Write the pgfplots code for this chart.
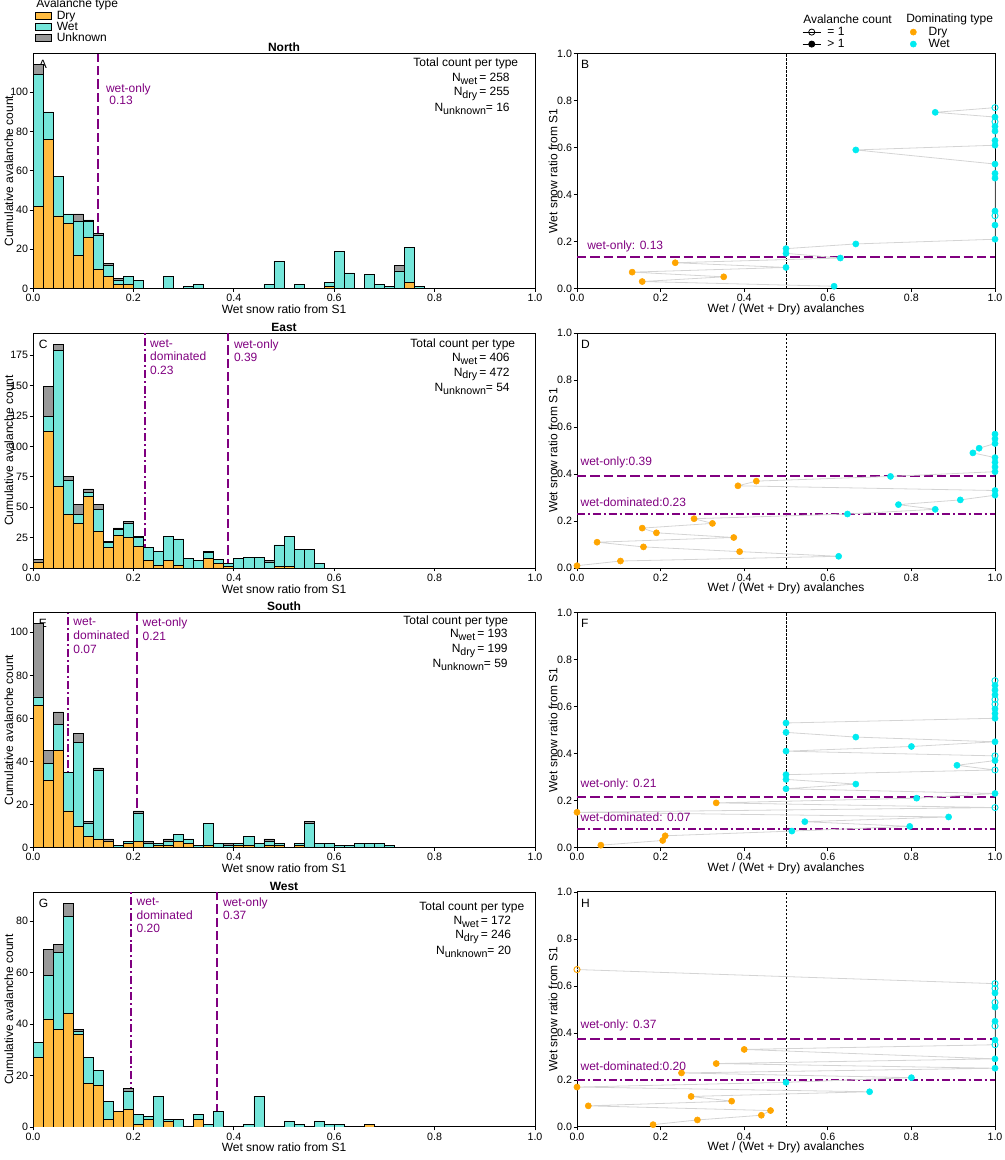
\documentclass[border=0pt]{standalone}
\usepackage{fontspec}
\setmainfont{Liberation Sans}
\usepackage{pgfplots}
\pgfplotsset{compat=1.18}
\usepackage{pgfplotstable}

\definecolor{dryh}{RGB}{255,187,64}
\definecolor{weth}{RGB}{116,230,218}
\definecolor{unkh}{RGB}{153,153,153}
\definecolor{scdry}{RGB}{255,165,0}
\definecolor{scwet}{RGB}{0,235,240}
\definecolor{purp}{RGB}{128,0,128}
\definecolor{pathg}{RGB}{212,212,212}

\newcommand{\sub}[1]{\raisebox{-0.45ex}{\fontsize{8}{8}\selectfont #1}}

\pgfplotstableread{
x dry wet unk
0.01 42 67 5
0.03 76 14 0
0.05 37 20 0
0.07 33 5 0
0.09 17 17 4
0.11 26 8 1
0.13 10 17 1
0.15 6 6 1
0.17 2 2 1
0.19 2 4 0
0.21 0 4 0
0.27 0 6 0
0.31 0 1 0
0.33 0 2 0
0.47 0 2 0
0.49 0 14 0
0.53 0 2 0
0.59 1 2 0
0.61 0 19 0
0.63 0 8 0
0.67 0 7 0
0.69 0 2 0
0.71 0 1 0
0.73 0 9 3
0.75 3 18 0
0.77 0 1 0
}\tabN

\pgfplotstableread{
x dry wet unk
0.01 5 0 2
0.03 112 13 24
0.05 67 112 5
0.07 44 28 3
0.09 37 7 8
0.11 59 3 3
0.13 30 18 4
0.15 17 4 1
0.17 27 5 1
0.19 25 12 1
0.21 18 7 1
0.23 6 11 0
0.25 2 12 0
0.27 6 20 0
0.29 2 22 0
0.31 0 8 0
0.33 0 6 0
0.35 8 5 1
0.37 4 3 0
0.39 1 3 0
0.41 0 8 0
0.43 0 9 0
0.45 0 9 0
0.47 0 5 1
0.49 1 18 0
0.51 1 25 0
0.53 0 15 0
0.55 0 15 0
0.57 0 4 0
}\tabE

\pgfplotstableread{
x dry wet unk
0.01 66 4 34
0.03 31 8 6
0.05 45 12 6
0.07 17 18 0
0.09 10 39 4
0.11 5 6 1
0.13 4 32 1
0.15 3 0 1
0.17 0 1 0
0.19 2 1 0
0.21 3 13 1
0.23 0 2 1
0.25 1 1 0
0.27 1 2 1
0.29 3 3 0
0.31 2 2 0
0.33 0 1 0
0.35 1 10 0
0.37 0 2 0
0.39 0 1 1
0.41 1 1 0
0.43 1 4 0
0.45 0 2 0
0.47 1 2 1
0.49 1 1 0
0.53 1 1 0
0.55 0 11 1
0.57 0 2 0
0.59 0 2 0
0.61 0 1 0
0.63 0 1 0
0.65 0 2 0
0.67 0 2 0
0.69 0 2 0
0.71 0 1 0
}\tabS

\pgfplotstableread{
x dry wet unk
0.01 27 6 0
0.03 42 17 10
0.05 38 30 3
0.07 44 38 5
0.09 36 1 1
0.11 17 10 0
0.13 16 6 0
0.15 3 7 0
0.17 6 0 0
0.19 7 7 1
0.21 1 4 0
0.23 3 1 0
0.25 0 12 0
0.27 2 1 0
0.29 0 3 0
0.33 3 2 0
0.35 0 1 0
0.37 0 6 0
0.43 0 1 0
0.45 0 12 0
0.51 0 2 0
0.53 0 1 0
0.57 0 2 0
0.59 0 1 0
0.61 0 1 0
0.67 1 0 0
}\tabW

\tikzset{
  plab/.style={text=purp, inner sep=0pt, anchor=west},
  hlab/.style={text=purp, inner sep=0pt, anchor=north west, align=left, font=\fontsize{9}{10.2}\selectfont},
  letter/.style={anchor=north west, inner sep=0pt},
  nblock/.style={anchor=north east, inner sep=0pt, align=right, font=\fontsize{9}{10.8}\selectfont},
}

\pgfplotsset{
  base/.style={scale only axis, xmin=0, xmax=1,
    axis line style={line width=0.75pt},
    tick align=outside, xtick pos=bottom, ytick pos=left,
    major tick length=2.5pt, tick style={line width=0.6pt, black},
    /pgf/number format/assume math mode=true,
    tick label style={font=\fontsize{8}{9}\selectfont},
    label style={font=\fontsize{9}{10}\selectfont},
    xtick={0,0.2,0.4,0.6,0.8,1},
    xticklabel style={/pgf/number format/.cd, fixed, fixed zerofill, precision=1, /tikz/.cd, inner sep=1.5pt},
    yticklabel style={inner sep=1pt},
    xlabel style={at={(axis description cs:0.5,-0.088)}, anchor=center},
    title style={at={(axis description cs:0.5,1)}, anchor=base, yshift=-4.6pt, font=\bfseries\fontsize{9}{10}\selectfont}},
  hist/.style={base, width=376.5pt, height=176.25pt, ymin=0, ybar stacked, bar width=0.02,
    xlabel={Wet snow ratio from S1}, ylabel={Cumulative avalanche count},
    ylabel style={at={(axis description cs:-0.048,0.5)}, anchor=center}},
  sc/.style={base, width=313.5pt, height=176.25pt, ymin=0, ymax=1,
    ytick={0,0.2,0.4,0.6,0.8,1},
    yticklabel style={/pgf/number format/.cd, fixed, fixed zerofill, precision=1},
    xlabel={Wet / (Wet + Dry) avalanches}, ylabel={Wet snow ratio from S1},
    ylabel style={at={(axis description cs:-0.057,0.5)}, anchor=center}, clip=false},
  bars/.style={draw=black, line width=0.55pt},
  vline/.style={purp, line width=1.5pt, sharp plot, stack plots=false, forget plot},
  dlong/.style={dash pattern=on 7pt off 3pt},
  ddot/.style={dash pattern=on 6pt off 2.2pt on 1.5pt off 2.2pt},
  hline/.style={purp, line width=1.5pt},
  midline/.style={black, line width=0.5pt, dash pattern=on 1.8pt off 1.2pt},
  gpath/.style={pathg, line width=0.6pt, no marks},
  mdry/.style={only marks, mark=*, mark size=2.3pt, scdry},
  mwet/.style={only marks, mark=*, mark size=2.3pt, scwet},
  owet/.style={only marks, mark=o, mark size=2.3pt, scwet, line width=0.7pt, mark options={fill=white}},
  odry/.style={only marks, mark=o, mark size=2.3pt, scdry, line width=0.7pt, mark options={fill=white}},
  boxleg/.style={legend image code/.code={\draw[##1] (0pt,-2.4pt) rectangle (12.2pt,2.4pt);}},
  lineleg/.style={legend image code/.code={\draw[mark repeat=2,mark phase=2,##1] plot coordinates {(0pt,0pt) (6.75pt,0pt) (13.5pt,0pt)};}},
  dotleg/.style={legend image code/.code={\draw[##1] plot coordinates {(0pt,0pt)};}},
  legax/.style={hide axis, scale only axis, width=4pt, height=4pt, xmin=0, xmax=1, ymin=0, ymax=1, anchor=north west,
    legend cell align=left},
  legsty/.style={legend style={at={(0,1)}, anchor=north west, draw=none, fill=none, inner sep=0pt, outer sep=0pt,
    font=\fontsize{9}{10}\selectfont, nodes={inner sep=0.5pt, text height=6.25pt, text depth=1.5pt}}},
}

\begin{document}
\begin{tikzpicture}[font=\fontsize{9}{10}\selectfont]
\useasboundingbox (0,0) rectangle (753.75pt,870pt);

% ---------- legends ----------
\node[anchor=west, inner sep=0pt] at (27pt,866.5pt) {Avalanche type};
\begin{axis}[legax, at={(26.1pt,862.3pt)}, legsty,
  legend style={row sep=-0.5pt, /tikz/every odd column/.append style={column sep=3.2pt}}]
\addlegendimage{boxleg, draw=black, line width=0.6pt, fill=dryh}
\addlegendentry{Dry}
\addlegendimage{boxleg, draw=black, line width=0.6pt, fill=weth}
\addlegendentry{Wet}
\addlegendimage{boxleg, draw=black, line width=0.6pt, fill=unkh}
\addlegendentry{Unknown}
\end{axis}

\node[anchor=west, inner sep=0pt] at (602.25pt,855.75pt) {Avalanche count};
\node[anchor=west, inner sep=0pt] at (679.5pt,855.75pt) {Dominating type};
\begin{axis}[legax, at={(601.75pt,850.3pt)}, legsty,
  legend style={row sep=0.25pt, /tikz/every odd column/.append style={column sep=4.25pt}}]
\addlegendimage{lineleg, black, line width=0.6pt, mark=o, mark size=2.3pt}
\addlegendentry{= 1}
\addlegendimage{lineleg, black, line width=0.6pt, mark=*, mark size=2.3pt}
\addlegendentry{> 1}
\end{axis}
\begin{axis}[legax, at={(682.7pt,850.3pt)}, legsty,
  legend style={row sep=0.25pt, /tikz/every odd column/.append style={column sep=8.7pt}}]
\addlegendimage{dotleg, only marks, mark=*, mark size=2.3pt, scdry}
\addlegendentry{Dry}
\addlegendimage{dotleg, only marks, mark=*, mark size=2.3pt, scwet}
\addlegendentry{Wet}
\end{axis}

% ---------- A: North histogram ----------
\begin{axis}[hist, at={(24.75pt,653.55pt)}, anchor=south west, ymax=119.7, ytick={0,20,40,60,80,100}, title={North}]
\addplot[bars, fill=dryh] table[x=x,y=dry]{\tabN};
\addplot[bars, fill=weth] table[x=x,y=wet]{\tabN};
\addplot[bars, fill=unkh] table[x=x,y=unk]{\tabN};
\addplot[vline, dlong] coordinates {(0.129,0) (0.129,119.7)};
\node[letter] at (rel axis cs:0.011,0.972) {A};
\node[hlab, font=\fontsize{9}{8.8}\selectfont] at (rel axis cs:0.145,0.872) {wet-only\\\ 0.13};
\node[anchor=base east, inner sep=0pt] at (rel axis cs:0.967,0.947) {Total count per type};
\node[nblock] at (rel axis cs:0.95,0.918) {N\sub{wet}\,= 258\\N\sub{dry}\,= 255\\[1pt]N\sub{unknown}= 16};
\end{axis}

% ---------- B: North scatter ----------
\begin{axis}[sc, at={(432.75pt,653.55pt)}, anchor=south west]
\addplot[midline] coordinates {(0.5,0) (0.5,1)};
\addplot[hline, dlong] coordinates {(0,0.135) (1,0.135)};
\addplot[gpath] coordinates {(0.615,0.01) (0.156,0.03) (0.351,0.05) (0.132,0.07) (0.5,0.09) (0.235,0.11) (0.630,0.13) (0.5,0.15) (0.5,0.17) (0.667,0.19) (1,0.21) (1,0.27) (1,0.31) (1,0.33) (1,0.47) (1,0.49) (1,0.53) (0.667,0.59) (1,0.61) (1,0.63) (1,0.67) (1,0.69) (1,0.71) (1,0.73) (0.857,0.75) (1,0.77)};
\addplot[mdry] coordinates {(0.156,0.03) (0.351,0.05) (0.132,0.07) (0.235,0.11)};
\addplot[mwet] coordinates {(0.615,0.01) (0.5,0.09) (0.630,0.13) (0.5,0.15) (0.5,0.17) (0.667,0.19) (1,0.21) (1,0.27) (1,0.33) (1,0.47) (1,0.49) (1,0.53) (0.667,0.59) (1,0.61) (1,0.63) (1,0.67) (1,0.69) (1,0.73) (0.857,0.75)};
\addplot[owet] coordinates {(1,0.31) (1,0.71) (1,0.77)};
\node[letter] at (rel axis cs:0.009,0.972) {B};
\node[plab] at (axis cs:0.024,0.18) {wet-only: 0.13};
\end{axis}

% ---------- C: East histogram ----------
\begin{axis}[hist, at={(24.75pt,443.95pt)}, anchor=south west, ymax=193.2, ytick={0,25,50,75,100,125,150,175}, title={East}]
\addplot[bars, fill=dryh] table[x=x,y=dry]{\tabE};
\addplot[bars, fill=weth] table[x=x,y=wet]{\tabE};
\addplot[bars, fill=unkh] table[x=x,y=unk]{\tabE};
\addplot[vline, ddot] coordinates {(0.224,0) (0.224,193.2)};
\addplot[vline, dlong] coordinates {(0.388,0) (0.388,193.2)};
\node[letter] at (rel axis cs:0.011,0.972) {C};
\node[hlab] at (rel axis cs:0.233,0.974) {wet-\\dominated\\0.23};
\node[hlab] at (rel axis cs:0.400,0.974) {wet-only\\0.39};
\node[anchor=base east, inner sep=0pt] at (rel axis cs:0.961,0.938) {Total count per type};
\node[nblock] at (rel axis cs:0.95,0.915) {N\sub{wet}\,= 406\\N\sub{dry}\,= 472\\[1pt]N\sub{unknown}= 54};
\end{axis}

% ---------- D: East scatter ----------
\begin{axis}[sc, at={(432.75pt,443.95pt)}, anchor=south west]
\addplot[midline] coordinates {(0.5,0) (0.5,1)};
\addplot[hline, dlong] coordinates {(0,0.393) (1,0.393)};
\addplot[hline, ddot] coordinates {(0,0.228) (1,0.228)};
\addplot[gpath] coordinates {(0,0.01) (0.104,0.03) (0.626,0.05) (0.389,0.07) (0.159,0.09) (0.048,0.11) (0.375,0.13) (0.190,0.15) (0.156,0.17) (0.324,0.19) (0.280,0.21) (0.647,0.23) (0.857,0.25) (0.769,0.27) (0.917,0.29) (1,0.31) (1,0.33) (0.385,0.35) (0.429,0.37) (0.75,0.39) (1,0.41) (1,0.43) (1,0.45) (1,0.47) (0.947,0.49) (0.962,0.51) (1,0.53) (1,0.55) (1,0.57)};
\addplot[mdry] coordinates {(0,0.01) (0.104,0.03) (0.389,0.07) (0.159,0.09) (0.048,0.11) (0.375,0.13) (0.190,0.15) (0.156,0.17) (0.324,0.19) (0.280,0.21) (0.385,0.35) (0.429,0.37)};
\addplot[mwet] coordinates {(0.626,0.05) (0.647,0.23) (0.857,0.25) (0.769,0.27) (0.917,0.29) (1,0.31) (1,0.33) (0.75,0.39) (1,0.41) (1,0.43) (1,0.45) (1,0.47) (0.947,0.49) (0.962,0.51) (1,0.53) (1,0.55) (1,0.57)};
\node[letter] at (rel axis cs:0.009,0.972) {D};
\node[plab] at (axis cs:0.008,0.448) {wet-only:0.39};
\node[plab] at (axis cs:0.008,0.280) {wet-dominated:0.23};
\end{axis}

% ---------- E: South histogram ----------
\begin{axis}[hist, at={(24.75pt,234.35pt)}, anchor=south west, ymax=109.2, ytick={0,20,40,60,80,100}, title={South}]
\addplot[bars, fill=dryh] table[x=x,y=dry]{\tabS};
\addplot[bars, fill=weth] table[x=x,y=wet]{\tabS};
\addplot[bars, fill=unkh] table[x=x,y=unk]{\tabS};
\addplot[vline, ddot] coordinates {(0.070,0) (0.070,109.2)};
\addplot[vline, dlong] coordinates {(0.207,0) (0.207,109.2)};
\node[letter] at (rel axis cs:0.011,0.972) {E};
\node[hlab] at (rel axis cs:0.080,0.977) {wet-\\dominated\\0.07};
\node[hlab] at (rel axis cs:0.218,0.977) {wet-only\\0.21};
\node[anchor=base east, inner sep=0pt] at (rel axis cs:0.947,0.951) {Total count per type};
\node[nblock] at (rel axis cs:0.946,0.929) {N\sub{wet}\,= 193\\N\sub{dry}\,= 199\\[1pt]N\sub{unknown}= 59};
\end{axis}

% ---------- F: South scatter ----------
\begin{axis}[sc, at={(432.75pt,234.35pt)}, anchor=south west]
\addplot[midline] coordinates {(0.5,0) (0.5,1)};
\addplot[hline, dlong] coordinates {(0,0.214) (1,0.214)};
\addplot[hline, ddot] coordinates {(0,0.079) (1,0.079)};
\addplot[gpath] coordinates {(0.057,0.01) (0.205,0.03) (0.211,0.05) (0.514,0.07) (0.796,0.09) (0.545,0.11) (0.889,0.13) (0,0.15) (1,0.17) (0.333,0.19) (0.8125,0.21) (1,0.23) (0.5,0.25) (0.667,0.27) (0.5,0.29) (0.5,0.31) (1,0.33) (0.909,0.35) (1,0.37) (1,0.39) (0.5,0.41) (0.8,0.43) (1,0.45) (0.667,0.47) (0.5,0.49) (0.5,0.53) (1,0.55) (1,0.57) (1,0.59) (1,0.61) (1,0.63) (1,0.65) (1,0.67) (1,0.69) (1,0.71)};
\addplot[mdry] coordinates {(0.057,0.01) (0.205,0.03) (0.211,0.05) (0,0.15) (0.333,0.19)};
\addplot[mwet] coordinates {(0.514,0.07) (0.796,0.09) (0.545,0.11) (0.889,0.13) (0.8125,0.21) (1,0.23) (0.5,0.25) (0.667,0.27) (0.5,0.29) (0.5,0.31) (0.909,0.35) (1,0.37) (0.5,0.41) (0.8,0.43) (1,0.45) (0.667,0.47) (0.5,0.49) (0.5,0.53) (1,0.55) (1,0.57) (1,0.59) (1,0.65) (1,0.67) (1,0.69)};
\addplot[owet] coordinates {(1,0.17) (1,0.33) (1,0.39) (1,0.61) (1,0.63) (1,0.71)};
\node[letter] at (rel axis cs:0.009,0.972) {F};
\node[plab] at (axis cs:0.008,0.270) {wet-only: 0.21};
\node[plab] at (axis cs:0.008,0.128) {wet-dominated: 0.07};
\end{axis}

% ---------- G: West histogram ----------
\begin{axis}[hist, at={(24.75pt,24.75pt)}, anchor=south west, ymax=91.35, ytick={0,20,40,60,80}, title={West}]
\addplot[bars, fill=dryh] table[x=x,y=dry]{\tabW};
\addplot[bars, fill=weth] table[x=x,y=wet]{\tabW};
\addplot[bars, fill=unkh] table[x=x,y=unk]{\tabW};
\addplot[vline, ddot] coordinates {(0.196,0) (0.196,91.35)};
\addplot[vline, dlong] coordinates {(0.367,0) (0.367,91.35)};
\node[letter] at (rel axis cs:0.011,0.972) {G};
\node[hlab] at (rel axis cs:0.206,0.977) {wet-\\dominated\\0.20};
\node[hlab] at (rel axis cs:0.378,0.977) {wet-only\\0.37};
\node[anchor=base east, inner sep=0pt] at (rel axis cs:0.979,0.922) {Total count per type};
\node[nblock] at (rel axis cs:0.953,0.899) {N\sub{wet}\,= 172\\N\sub{dry}\,= 246\\[1pt]N\sub{unknown}= 20};
\end{axis}

% ---------- H: West scatter ----------
\begin{axis}[sc, at={(432.75pt,24.75pt)}, anchor=south west]
\addplot[midline] coordinates {(0.5,0) (0.5,1)};
\addplot[hline, dlong] coordinates {(0,0.375) (1,0.375)};
\addplot[hline, ddot] coordinates {(0,0.202) (1,0.202)};
\addplot[gpath] coordinates {(0.182,0.01) (0.288,0.03) (0.441,0.05) (0.463,0.07) (0.027,0.09) (0.370,0.11) (0.273,0.13) (0.7,0.15) (0,0.17) (0.5,0.19) (0.8,0.21) (0.25,0.23) (1,0.25) (0.333,0.27) (1,0.29) (0.4,0.33) (1,0.35) (1,0.37) (1,0.43) (1,0.45) (1,0.51) (1,0.53) (1,0.57) (1,0.59) (1,0.61) (0,0.67)};
\addplot[mdry] coordinates {(0.182,0.01) (0.288,0.03) (0.441,0.05) (0.463,0.07) (0.027,0.09) (0.370,0.11) (0.273,0.13) (0,0.17) (0.25,0.23) (0.333,0.27) (0.4,0.33)};
\addplot[odry] coordinates {(0,0.67)};
\addplot[mwet] coordinates {(0.7,0.15) (0.5,0.19) (0.8,0.21) (1,0.25) (1,0.29) (1,0.37) (1,0.45) (1,0.51) (1,0.57)};
\addplot[owet] coordinates {(1,0.35) (1,0.43) (1,0.53) (1,0.59) (1,0.61)};
\node[letter] at (rel axis cs:0.009,0.972) {H};
\node[plab] at (axis cs:0.008,0.431) {wet-only: 0.37};
\node[plab] at (axis cs:0.008,0.257) {wet-dominated:0.20};
\end{axis}
\end{tikzpicture}
\end{document}
